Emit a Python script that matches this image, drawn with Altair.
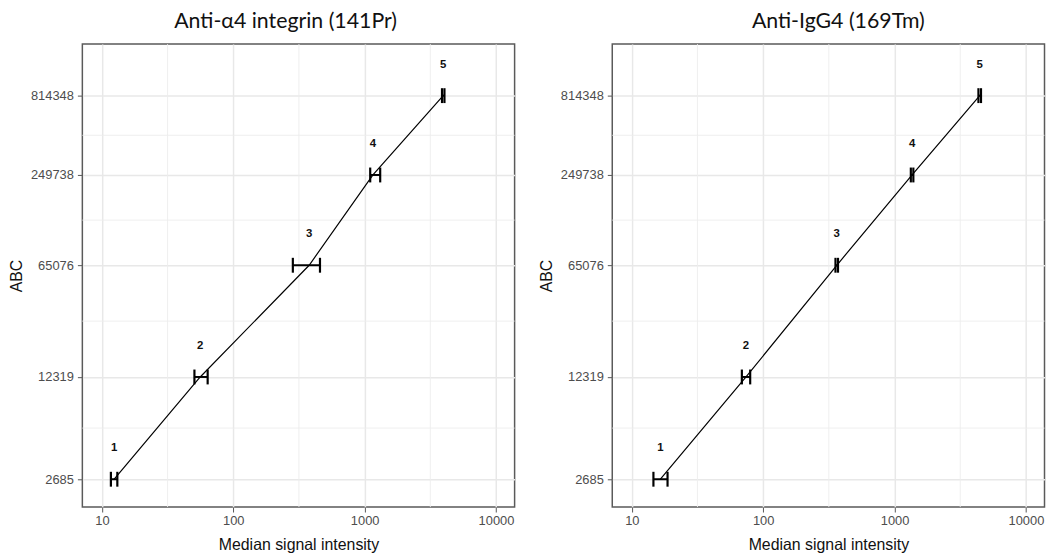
import altair as alt
import pandas as pd

# ---- data ----
panel_titles = ["Anti-α4 integrin (141Pr)", "Anti-IgG4 (169Tm)"]
beads = [1, 2, 3, 4, 5]
abc = [2685, 12319, 65076, 249738, 814348]

left_x = [12.4, 56, 378, 1156, 3963]
left_lo = [11.7, 50.6, 284, 1102, 3880]
left_hi = [13.1, 63.8, 457, 1313, 4050]

right_x = [16.5, 74, 363, 1360, 4450]
right_lo = [14.6, 68.8, 355, 1330, 4350]
right_hi = [18.7, 79.6, 371, 1390, 4550]

x_major = [10, 100, 1000, 10000]
x_minor = [31.6, 316, 3162]
y_minor = [5751, 28314, 127480, 450968]

W, H = 436, 467
X_DOMAIN = [10 ** 0.851, 10 ** 4.1415]
Y_DOMAIN = [10 ** 3.249, 10 ** 6.2445]
AX_FONT = "Liberation Sans"


def panel(title, xs, lo, hi, dx):
    df = pd.DataFrame({"bead": beads, "abc": abc, "x": xs, "lo": lo, "hi": hi})
    xscale = alt.Scale(type="log", domain=X_DOMAIN, nice=False)
    yscale = alt.Scale(type="log", domain=Y_DOMAIN, nice=False)

    xaxis = alt.Axis(values=x_major, format="d", title="Median signal intensity",
                     labelPadding=2.5, titlePadding=9)
    yaxis = alt.Axis(values=abc, format="d", title="ABC", labelPadding=4, titlePadding=5.5)

    def X(f):
        return alt.X(f, scale=xscale, axis=xaxis)

    def Y(f):
        return alt.Y(f, scale=yscale, axis=yaxis)

    xminor = alt.Chart(pd.DataFrame({"v": x_minor})).mark_rule(
        color="#ededed", strokeWidth=0.9
    ).encode(x=X("v:Q"))
    yminor = alt.Chart(pd.DataFrame({"v": y_minor})).mark_rule(
        color="#ededed", strokeWidth=0.9
    ).encode(y=Y("v:Q"))

    base = alt.Chart(df)
    line = base.mark_line(color="black", strokeWidth=1.2).encode(
        x=X("x:Q"), y=Y("abc:Q"), order="bead:O"
    )
    bar = base.mark_rule(color="black", strokeWidth=2).encode(
        x=X("lo:Q"), x2="hi:Q", y=Y("abc:Q")
    )
    cap_lo = base.mark_tick(orient="vertical", size=15, thickness=2.2, color="black", opacity=1).encode(
        x=X("lo:Q"), y=Y("abc:Q")
    )
    cap_hi = base.mark_tick(orient="vertical", size=15, thickness=2.2, color="black", opacity=1).encode(
        x=X("hi:Q"), y=Y("abc:Q")
    )
    labels = base.mark_text(
        dy=-31, fontSize=11.5, fontWeight="bold", font=AX_FONT, color="#111"
    ).encode(x=X("x:Q"), y=Y("abc:Q"), text="bead:N")
    return alt.layer(xminor, yminor, line, bar, cap_lo, cap_hi, labels).properties(
        width=W,
        height=H,
        title=alt.TitleParams(
            text=title,
            font="Lato",
            fontSize=21.5,
            fontWeight="normal",
            color="#111",
            anchor="middle",
            frame="group",
            dx=dx,
            offset=11,
        ),
    )


left = panel(panel_titles[0], left_x, left_lo, left_hi, -13)
right = panel(panel_titles[1], right_x, right_lo, right_hi, 10)

chart = (
    alt.hconcat(left, right, spacing=21.5)
    .properties(padding={"left": 0, "top": 0, "right": 0, "bottom": 0})
    .configure_view(stroke="#5a5a5a", strokeWidth=1.5)
    .configure_axis(
        domain=False,
        grid=True,
        gridColor="#e8e8e8",
        gridWidth=1.5,
        ticks=True,
        tickColor="#555555",
        tickSize=5,
        tickWidth=1,
        labelFont=AX_FONT,
        labelFontSize=13,
        labelColor="#4d4d4d",
        titleFont=AX_FONT,
        titleFontSize=16,
        titleFontWeight="normal",
        titleColor="#111",
    )
    .configure_concat(spacing=21.5)
)

chart.save("out.html", embed_options={"renderer": "svg", "actions": False})
